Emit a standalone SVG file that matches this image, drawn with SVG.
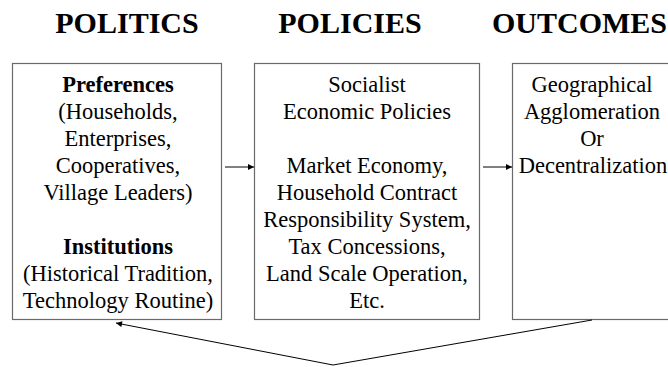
<svg xmlns="http://www.w3.org/2000/svg" width="668" height="367" viewBox="0 0 668 367" font-family="'Liberation Serif', 'Times New Roman', 'DejaVu Serif', serif">
  <style>
    text { font-family: 'Liberation Serif', 'Times New Roman', 'DejaVu Serif', serif; fill: #000; }
    .title { font-size: 30px; font-weight: bold; }
    .body { font-size: 22.5px; text-anchor: middle; }
    .b { font-weight: bold; }
    .box { fill: #fff; stroke: #6a6a6a; stroke-width: 1.2; }
    .conn { fill: none; stroke: #000; stroke-width: 1; }
  </style>
  <defs>
    <marker id="head" viewBox="0 0 10 10" refX="10" refY="5" markerWidth="7" markerHeight="6" markerUnits="userSpaceOnUse" orient="auto">
      <path d="M0,0 L10,5 L0,10 Z" fill="#000"/>
    </marker>
  </defs>
  <rect width="668" height="367" fill="#fff"/>

  <!-- column headings -->
  <g id="headings">
    <text class="title" x="127" y="33" text-anchor="middle">POLITICS</text>
    <text class="title" x="350" y="33" text-anchor="middle">POLICIES</text>
    <text class="title" x="492" y="33">OUTCOMES</text>
  </g>

  <!-- politics box -->
  <g id="politics">
    <rect class="box" x="12.5" y="63.5" width="209" height="256"/>
    <text class="body b" x="118" y="92">Preferences</text>
    <text class="body" x="118" y="119">(Households,</text>
    <text class="body" x="118" y="146">Enterprises,</text>
    <text class="body" x="118" y="173">Cooperatives,</text>
    <text class="body" x="118" y="200">Village Leaders)</text>
    <text class="body b" x="118" y="254">Institutions</text>
    <text class="body" x="118" y="281">(Historical Tradition,</text>
    <text class="body" x="118" y="308">Technology Routine)</text>
  </g>

  <!-- policies box -->
  <g id="policies">
    <rect class="box" x="254.5" y="63.5" width="225" height="256"/>
    <text class="body" x="367" y="92">Socialist</text>
    <text class="body" x="367" y="119">Economic Policies</text>
    <text class="body" x="367" y="173">Market Economy,</text>
    <text class="body" x="367" y="200">Household Contract</text>
    <text class="body" x="367" y="227">Responsibility System,</text>
    <text class="body" x="367" y="254">Tax Concessions,</text>
    <text class="body" x="367" y="281">Land Scale Operation,</text>
    <text class="body" x="367" y="308">Etc.</text>
  </g>

  <!-- outcomes box -->
  <g id="outcomes">
    <rect class="box" x="512.5" y="63.5" width="226" height="256"/>
    <text class="body" x="592" y="92">Geographical</text>
    <text class="body" x="592" y="119">Agglomeration</text>
    <text class="body" x="592" y="146">Or</text>
    <text class="body" x="593" y="173">Decentralization</text>
  </g>

  <!-- connectors -->
  <g id="connectors">
    <line class="conn" x1="225" y1="167" x2="254" y2="167" marker-end="url(#head)"/>
    <line class="conn" x1="483" y1="167" x2="512" y2="167" marker-end="url(#head)"/>
    <polyline class="conn" points="592,320 333,365 116,323" marker-end="url(#head)"/>
  </g>
</svg>
